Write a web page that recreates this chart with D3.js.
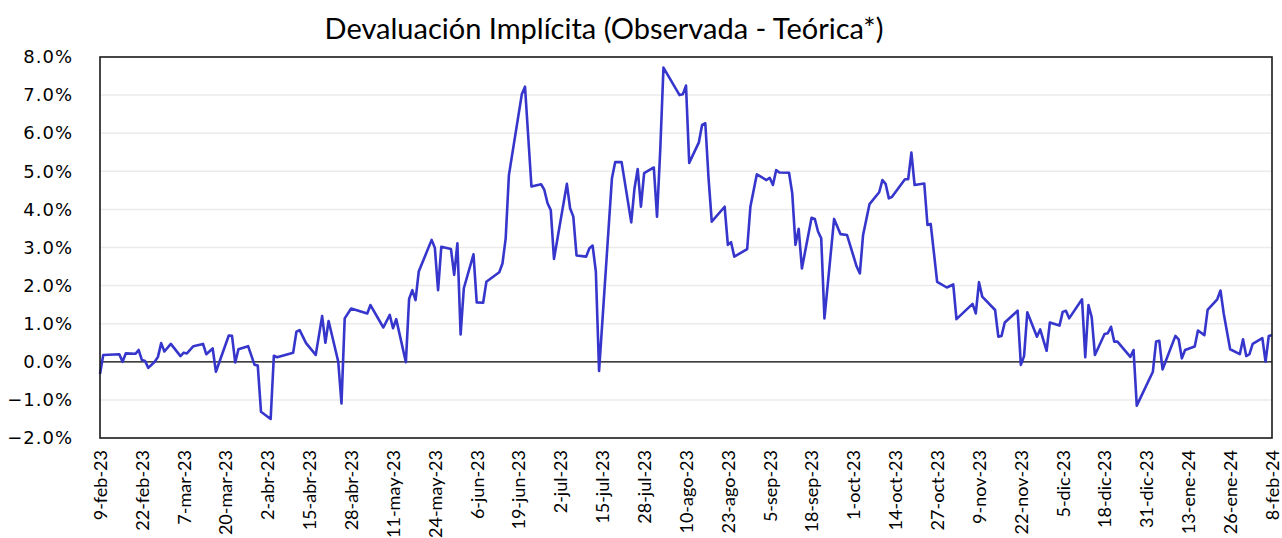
<!DOCTYPE html>
<html>
<head>
<meta charset="utf-8">
<script src="https://cdn.jsdelivr.net/npm/d3@7"></script>
<style>
  html, body { margin: 0; padding: 0; background: #fff; }
  svg { display: block; }
</style>
</head>
<body>
<svg id="chart" width="1282" height="538"></svg>
<script>
// Devaluación implícita (observada - teórica), en %
const dates = [
  "2023-02-09","2023-02-10","2023-02-15","2023-02-16","2023-02-17","2023-02-20","2023-02-21","2023-02-22",
  "2023-02-23","2023-02-24","2023-02-26","2023-02-27","2023-02-28","2023-03-01","2023-03-03","2023-03-06",
  "2023-03-07","2023-03-08","2023-03-10","2023-03-13","2023-03-14","2023-03-16","2023-03-17","2023-03-21",
  "2023-03-22","2023-03-23","2023-03-24","2023-03-27","2023-03-29","2023-03-30","2023-03-31","2023-04-03",
  "2023-04-04","2023-04-05","2023-04-10","2023-04-11","2023-04-12","2023-04-14","2023-04-17","2023-04-19",
  "2023-04-20","2023-04-21","2023-04-24","2023-04-25","2023-04-26","2023-04-28","2023-05-03","2023-05-04",
  "2023-05-08","2023-05-10","2023-05-11","2023-05-12","2023-05-15","2023-05-16","2023-05-17","2023-05-18",
  "2023-05-19","2023-05-23","2023-05-24","2023-05-25","2023-05-26","2023-05-29","2023-05-30","2023-05-31",
  "2023-06-01","2023-06-02","2023-06-05","2023-06-06","2023-06-08","2023-06-09","2023-06-13","2023-06-14",
  "2023-06-15","2023-06-16","2023-06-20","2023-06-21","2023-06-23","2023-06-26","2023-06-27","2023-06-28",
  "2023-06-29","2023-06-30","2023-07-04","2023-07-05","2023-07-06","2023-07-07","2023-07-10","2023-07-11",
  "2023-07-12","2023-07-13","2023-07-14","2023-07-18","2023-07-19","2023-07-21","2023-07-24","2023-07-25",
  "2023-07-26","2023-07-27","2023-07-28","2023-07-31","2023-08-01","2023-08-02","2023-08-03","2023-08-08",
  "2023-08-09","2023-08-10","2023-08-11","2023-08-14","2023-08-15","2023-08-16","2023-08-17","2023-08-18",
  "2023-08-22","2023-08-23","2023-08-24","2023-08-25","2023-08-29","2023-08-30","2023-09-01","2023-09-04",
  "2023-09-05","2023-09-06","2023-09-07","2023-09-08","2023-09-11","2023-09-12","2023-09-13","2023-09-14",
  "2023-09-15","2023-09-18","2023-09-19","2023-09-20","2023-09-21","2023-09-22","2023-09-25","2023-09-27",
  "2023-09-29","2023-10-02","2023-10-03","2023-10-04","2023-10-06","2023-10-09","2023-10-10","2023-10-11",
  "2023-10-12","2023-10-13","2023-10-17","2023-10-18","2023-10-19","2023-10-20","2023-10-23","2023-10-24",
  "2023-10-25","2023-10-27","2023-10-30","2023-11-01","2023-11-02","2023-11-07","2023-11-08","2023-11-09",
  "2023-11-10","2023-11-14","2023-11-15","2023-11-16","2023-11-17","2023-11-21","2023-11-22","2023-11-23",
  "2023-11-24","2023-11-27","2023-11-28","2023-11-30","2023-12-01","2023-12-04","2023-12-05","2023-12-06",
  "2023-12-07","2023-12-11","2023-12-12","2023-12-13","2023-12-14","2023-12-15","2023-12-18","2023-12-19",
  "2023-12-20","2023-12-21","2023-12-22","2023-12-26","2023-12-27","2023-12-28","2024-01-02","2024-01-03",
  "2024-01-04","2024-01-05","2024-01-09","2024-01-10","2024-01-11","2024-01-12","2024-01-15","2024-01-16",
  "2024-01-18","2024-01-19","2024-01-22","2024-01-23","2024-01-24","2024-01-26","2024-01-29","2024-01-30",
  "2024-01-31","2024-02-01","2024-02-02","2024-02-05","2024-02-06","2024-02-07","2024-02-08"
];

const devaluacion = [
  -0.32, 0.18, 0.20, 0.00, 0.22, 0.21, 0.31, 0.05,
  0.02, -0.16, 0.00, 0.13, 0.49, 0.27, 0.47, 0.15,
  0.24, 0.22, 0.41, 0.47, 0.20, 0.35, -0.26, 0.69,
  0.68, -0.02, 0.33, 0.41, -0.08, -0.10, -1.31, -1.50,
  0.16, 0.12, 0.24, 0.79, 0.83, 0.49, 0.18, 1.20,
  0.50, 1.07, 0.00, -1.09, 1.14, 1.40, 1.27, 1.49,
  0.90, 1.23, 0.88, 1.12, -0.01, 1.65, 1.88, 1.62,
  2.37, 3.20, 2.99, 1.88, 3.02, 2.96, 2.28, 3.11,
  0.72, 1.93, 2.82, 1.56, 1.55, 2.10, 2.35, 2.58,
  3.24, 4.90, 7.02, 7.22, 4.60, 4.66, 4.51, 4.16,
  3.98, 2.70, 4.67, 4.03, 3.81, 2.79, 2.76, 2.98,
  3.05, 2.37, -0.24, 4.82, 5.24, 5.24, 3.66, 4.55,
  5.06, 4.07, 4.95, 5.10, 3.81, 5.56, 7.72, 7.00,
  7.02, 7.25, 5.22, 5.76, 6.22, 6.26, 4.82, 3.68,
  4.07, 3.07, 3.14, 2.76, 2.96, 4.07, 4.92, 4.77,
  4.83, 4.64, 5.03, 4.97, 4.96, 4.42, 3.07, 3.49,
  2.45, 3.78, 3.75, 3.42, 3.24, 1.14, 3.75, 3.35,
  3.33, 2.50, 2.32, 3.33, 4.14, 4.45, 4.77, 4.67,
  4.29, 4.33, 4.79, 4.79, 5.49, 4.64, 4.68, 3.59,
  3.62, 2.10, 1.95, 2.03, 1.12, 1.52, 1.27, 2.09,
  1.71, 1.36, 0.66, 0.68, 1.03, 1.34, -0.08, 0.15,
  1.30, 0.66, 0.85, 0.29, 1.03, 0.95, 1.31, 1.34,
  1.14, 1.64, 0.12, 1.49, 1.17, 0.18, 0.73, 0.75,
  0.92, 0.53, 0.53, 0.13, 0.31, -1.15, -0.26, 0.53,
  0.55, -0.20, 0.68, 0.59, 0.09, 0.31, 0.40, 0.82,
  0.70, 1.36, 1.64, 1.87, 1.27, 0.33, 0.20, 0.59,
  0.15, 0.20, 0.47, 0.62, 0.00, 0.68, 0.70
];

const yTicks = [-2, -1, 0, 1, 2, 3, 4, 5, 6, 7, 8];

const xTickLabels = [
  "9-feb-23","22-feb-23","7-mar-23","20-mar-23","2-abr-23","15-abr-23","28-abr-23","11-may-23",
  "24-may-23","6-jun-23","19-jun-23","2-jul-23","15-jul-23","28-jul-23","10-ago-23","23-ago-23",
  "5-sep-23","18-sep-23","1-oct-23","14-oct-23","27-oct-23","9-nov-23","22-nov-23","5-dic-23",
  "18-dic-23","31-dic-23","13-ene-24","26-ene-24","8-feb-24"
];

const title = "Devaluación Implícita (Observada - Teórica*)";

const parse = d3.timeParse("%Y-%m-%d");
const series = dates.map((d, i) => ({ date: parse(d), value: devaluacion[i] }));

const start = parse("2023-02-09");
const end = parse("2024-02-08");
const tickDates = xTickLabels.map((_, i) => d3.timeDay.offset(start, 13 * i));

const plot = { left: 100, right: 1272, top: 57, bottom: 438 };

const svg = d3.select("#chart");

const x = d3.scaleTime().domain([start, end]).range([plot.left, plot.right]);
const y = d3.scaleLinear().domain([-2, 8]).range([plot.bottom, plot.top]);

// title
svg.append("text")
  .attr("x", 604)
  .attr("y", 39)
  .attr("text-anchor", "middle")
  .attr("font-family", "Lato, 'Open Sans', sans-serif")
  .attr("font-size", 29)
  .attr("fill", "#000")
  .text(title);

// horizontal gridlines
svg.append("g")
  .selectAll("line")
  .data(yTicks.filter(t => t !== 0 && t !== -2 && t !== 8))
  .join("line")
  .attr("x1", plot.left)
  .attr("x2", plot.right)
  .attr("y1", d => y(d))
  .attr("y2", d => y(d))
  .attr("stroke", "#ebebeb")
  .attr("stroke-width", 1.5);

// y axis labels
const yAxis = d3.axisLeft(y)
  .tickValues(yTicks)
  .tickSize(0)
  .tickPadding(27)
  .tickFormat(d => d3.format(".1f")(d) + "%");

svg.append("g")
  .attr("transform", `translate(${plot.left},0)`)
  .call(yAxis)
  .call(g => g.select(".domain").remove())
  .call(g => g.selectAll("text")
    .attr("font-family", "'DejaVu Sans', Verdana, sans-serif")
    .attr("font-size", 18)
    .attr("letter-spacing", 1)
    .attr("fill", "#000"));

// x axis labels (rotated)
const xAxis = d3.axisBottom(x)
  .tickValues(tickDates)
  .tickSize(0)
  .tickFormat((d, i) => xTickLabels[i]);

svg.append("g")
  .attr("transform", `translate(0,${plot.bottom})`)
  .call(xAxis)
  .call(g => g.select(".domain").remove())
  .call(g => g.selectAll("text")
    .attr("font-family", "Lato, 'Open Sans', sans-serif")
    .attr("font-size", 18)
    .attr("fill", "#000")
    .attr("text-anchor", "end")
    .attr("dy", "0.35em")
    .attr("transform", "translate(0,12) rotate(-90)")
    .attr("x", 0)
    .attr("y", 0));

// zero line
svg.append("line")
  .attr("x1", plot.left)
  .attr("x2", plot.right)
  .attr("y1", y(0))
  .attr("y2", y(0))
  .attr("stroke", "#000")
  .attr("stroke-width", 1.2);

// series line
const line = d3.line()
  .x(d => x(d.date))
  .y(d => y(d.value));

svg.append("path")
  .datum(series)
  .attr("fill", "none")
  .attr("stroke", "#3636cc")
  .attr("stroke-width", 2.6)
  .attr("stroke-linejoin", "round")
  .attr("d", line);

// plot frame
svg.append("rect")
  .attr("x", plot.left)
  .attr("y", plot.top)
  .attr("width", plot.right - plot.left)
  .attr("height", plot.bottom - plot.top)
  .attr("fill", "none")
  .attr("stroke", "#1a1a1a")
  .attr("stroke-width", 1.6);
</script>
</body>
</html>
